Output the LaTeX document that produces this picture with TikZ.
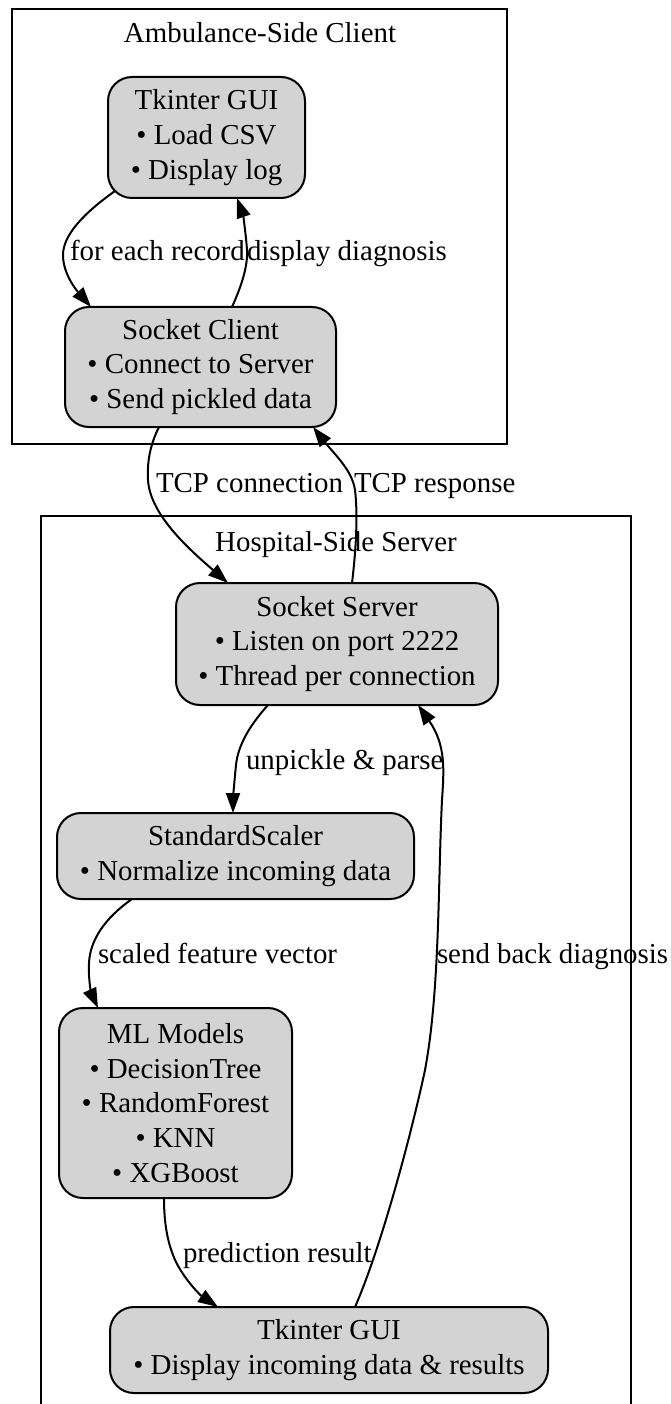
\documentclass[tikz,border=0pt]{standalone}
\usepackage{fontspec}
\setmainfont{Liberation Serif}
\usetikzlibrary{arrows.meta}
\definecolor{nodefill}{HTML}{D3D3D3}
\begin{document}
\begin{tikzpicture}[x=1pt,y=-1pt,
  txt/.style={font=\fontsize{28.9}{34.7}\selectfont, inner sep=0pt, outer sep=0pt},
  box/.style={txt, draw=black, line width=2pt, fill=nodefill,
              rounded corners=24pt, align=center},
  lbl/.style={txt, anchor=base west},
  ttl/.style={txt, anchor=base},
  cluster/.style={draw=black, line width=2pt},
  edge/.style={draw=black, line width=2pt,
               -{Triangle[length=20pt,width=14pt]}}]
\useasboundingbox (0,0) rectangle (671,1404);

% clusters
\draw[cluster] (12,9) rectangle (507,444);
\node[ttl] (tclient) at (260,43) {Ambulance-Side Client};
\draw[cluster] (41,1404) -- (41,516) -- (631,516) -- (631,1404);
\node[ttl] (tserver) at (336,551) {Hospital-Side Server};

% nodes
\node[box, minimum width=197pt, minimum height=121pt] (tgui) at (206.5,137.5)
  {Tkinter GUI\\• Load CSV\\• Display log};
\node[box, minimum width=271pt, minimum height=120pt] (sclient) at (200.5,367)
  {Socket Client\\• Connect to Server\\• Send pickled data};
\node[box, minimum width=322pt, minimum height=122pt] (sserver) at (337,644)
  {Socket Server\\• Listen on port 2222\\• Thread per connection};
\node[box, minimum width=357pt, minimum height=86pt] (scaler) at (235.5,856)
  {StandardScaler\\• Normalize incoming data};
\node[box, minimum width=233pt, minimum height=190pt] (ml) at (175.5,1103)
  {ML Models\\• DecisionTree\\• RandomForest\\• KNN\\• XGBoost};
\node[box, minimum width=438pt, minimum height=86pt] (tgui2) at (329,1350)
  {Tkinter GUI\\• Display incoming data \& results};

% connectors
\draw[edge] ([xshift=7pt,yshift=7pt]tgui.south west)
  .. controls (84,213) and (63,235) .. (63,255)
  .. controls (63,275) and (78,292) .. ([xshift=26pt]sclient.north west);
\draw[edge] ([xshift=167pt]sclient.north west)
  .. controls (242,285) and (248,265) .. (247,250)
  .. controls (246,235) and (243,215) .. ([xshift=129pt]tgui.south west);
\draw[edge] ([xshift=94pt]sclient.south west)
  .. controls (150,445) and (147,462) .. (148,480)
  .. controls (150,515) and (190,550) .. ([xshift=52pt]sserver.north west);
\draw[edge] ([xshift=176pt]sserver.north west)
  .. controls (356,550) and (358,515) .. (355,490)
  .. controls (352,470) and (335,455) .. ([xshift=248pt]sclient.south west);
\draw[edge] ([xshift=92pt]sserver.south west)
  .. controls (250,725) and (238,745) .. (236,765)
  .. controls (234,785) and (233,800) .. ([xshift=176pt]scaler.north west);
\draw[edge] ([xshift=75pt]scaler.south west)
  .. controls (105,918) and (90,940) .. (89,963)
  .. controls (88,980) and (92,995) .. ([xshift=39pt]ml.north west);
\draw[edge] ([xshift=105pt]ml.south west)
  .. controls (164,1225) and (168,1245) .. (176,1262)
  .. controls (185,1280) and (200,1295) .. ([xshift=108pt]tgui2.north west);
\draw[edge] ([xshift=245pt]tgui2.north west)
  .. controls (380,1250) and (410,1140) .. (425,1070)
  .. controls (440,990) and (438,880) .. (442,800)
  .. controls (444,770) and (446,745) .. ([xshift=242pt]sserver.south west);

% connector labels
\node[lbl] (l1) at (70,261) {for each record};
\node[lbl] (l2) at (247,261) {display diagnosis};
\node[lbl] (l3) at (156,492) {TCP connection};
\node[lbl] (l4) at (354,492) {TCP response};
\node[lbl] (l5) at (246,769) {unpickle \& parse};
\node[lbl] (l6) at (98,963) {scaled feature vector};
\node[lbl] (l7) at (437,963) {send back diagnosis};
\node[lbl] (l8) at (183,1262) {prediction result};
\end{tikzpicture}
\end{document}
